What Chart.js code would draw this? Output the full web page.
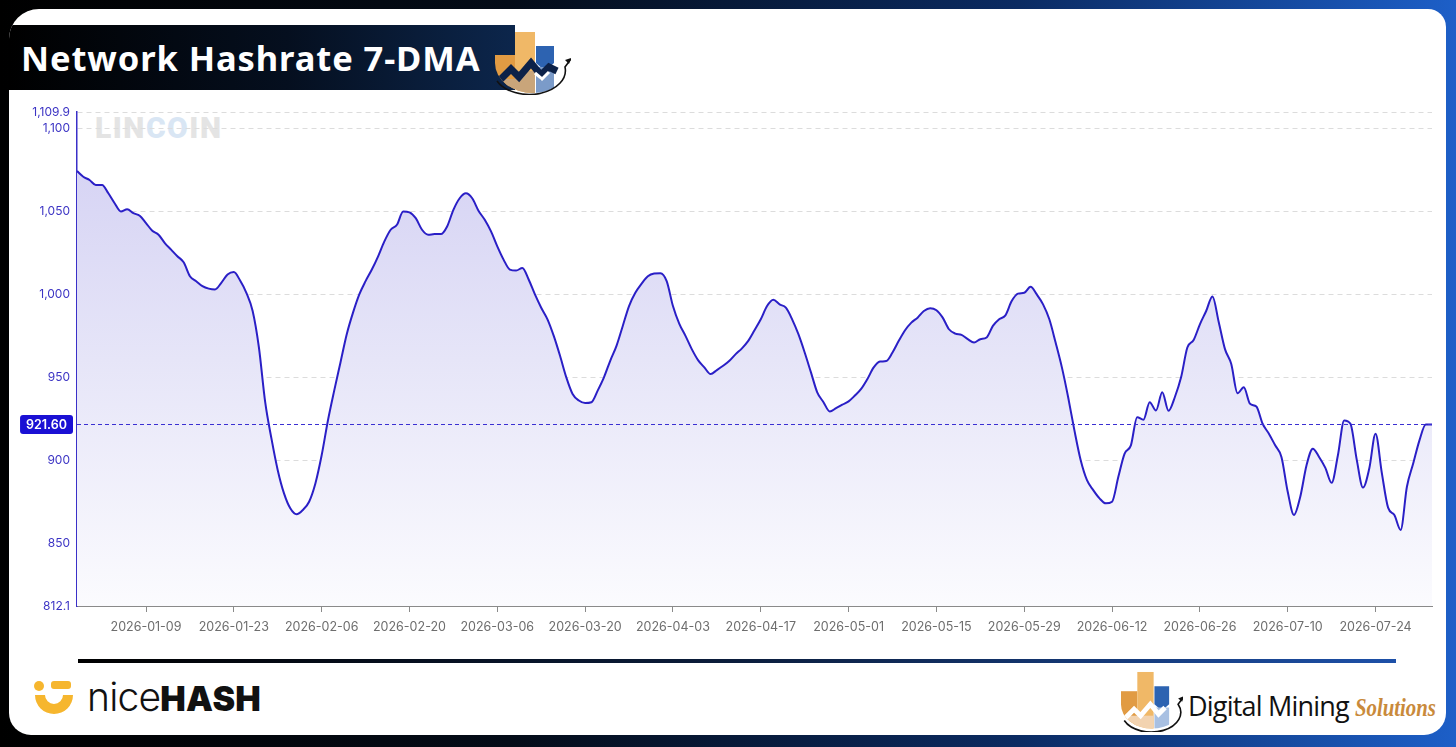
<!DOCTYPE html>
<html>
<head>
<meta charset="utf-8">
<script src="https://cdn.jsdelivr.net/npm/chart.js@4/dist/chart.umd.min.js"></script>
<style>
  html, body { margin: 0; padding: 0; }
  body {
    width: 1456px; height: 747px; overflow: hidden; position: relative;
    background: linear-gradient(90deg, #000 0%, #040c18 35%, #0b2b62 70%, #1d5fc8 100%);
    font-family: "Noto Sans", sans-serif;
  }
  #card {
    position: absolute; left: 9px; top: 9px; width: 1437px; height: 726px;
    background: #fff; border-radius: 30px 18px 22px 22px; overflow: hidden;
  }
  #banner {
    position: absolute; left: 0; top: 16px; width: 506px; height: 65px;
    background: linear-gradient(90deg, #000 0%, #050f1f 55%, #0c264c 100%);
  }
  #title {
    position: absolute; left: 12px; top: 9px; color: #fff;
    font: 700 34.5px "Noto Sans", sans-serif; letter-spacing: 0.9px; white-space: nowrap;
  }
  #logoTop { position: absolute; left: 486px; top: 14px; }
  #chartBox { position: absolute; left: 0; top: 98px; width: 1446px; height: 548px; }
  #wm {
    position: absolute; left: 86px; top: 101px; font: 900 30px Roboto, sans-serif;
    color: #e4e4e4; letter-spacing: 1.5px;
  }
  #wm span { color: #d9e6f4; }
  #sep {
    position: absolute; left: 69px; top: 650px; width: 1318px; height: 4px;
    background: linear-gradient(90deg, #000 0%, #0b1d3c 50%, #1d50a8 100%);
  }
  #nh { position: absolute; left: 24px; top: 671px; }
  #nhText { position: absolute; left: 78px; top: 664px; white-space: nowrap; color: #111; }
  #nhText .a { font: 300 39px Inter, sans-serif; letter-spacing: -0.8px; }
  #nhText .b { font: 900 34px Inter, sans-serif; letter-spacing: 0.3px; }
  #dms { position: absolute; left: 1112px; top: 661px; }
  #dmsText { position: absolute; left: 1179px; top: 678px; white-space: nowrap; }
  #dmsText .a { font: 500 27px "Open Sans", sans-serif; color: #111; letter-spacing: -0.8px; }
  #dmsText .b {
    display: inline-block; font: italic 700 26px "Liberation Serif", serif; color: #c98a3b;
    margin-left: 6px; transform: scaleX(0.8); transform-origin: left center;
  }
</style>
</head>
<body>
<div id="card">
  <div id="banner"><div id="title">Network Hashrate 7-DMA</div></div>
  <svg id="logoTop" width="76" height="72" viewBox="0 0 76 72">
    <defs><clipPath id="c1"><path d="M0 0 H76 V40 A38 30 0 0 1 0 40 Z"/></clipPath></defs>
    <g clip-path="url(#c1)">
      <rect x="0" y="32" width="20" height="45" fill="#e19b43"/>
      <rect x="20" y="9" width="20" height="68" fill="#f0b867"/>
      <rect x="20" y="48" width="20" height="30" fill="#c9a57a"/>
      <rect x="0" y="56" width="20" height="22" fill="#c9a57a"/>
      <path d="M41 23 H59 V40 L50 48 L41 40 Z" fill="#2d63b1"/>
      <rect x="41" y="44" width="18" height="34" fill="#7b9bc9"/>
      <path d="M0 62 L16 46 L24 54 L36 40 L46 52 L54 44 L62 48" stroke="#0c2148" stroke-width="7" fill="none"/>
      <path d="M40 50 L47 56 L54 49" stroke="#fff" stroke-width="3" fill="none"/>
    </g>
    <path d="M2 58 A36 24 0 0 0 70 44 L76 36" stroke="#111" stroke-width="1.6" fill="none"/>
    <path d="M76 35 L70 37 L74 41 Z" fill="#111"/>
  </svg>
  <div id="wm">LIN<span>CO</span>IN</div>
  <div id="sep"></div>
  <svg id="nh" width="42" height="40" viewBox="0 0 42 40">
    <circle cx="6" cy="6" r="5" fill="#f6b62e"/>
    <rect x="18" y="1" width="20" height="8" rx="3" fill="#f6b62e"/>
    <path d="M2 15 H12 A9 9 0 0 0 30 15 H40 A19 19 0 0 1 2 15 Z" fill="#f6b62e"/>
  </svg>
  <div id="nhText"><span class="a">nice</span><span class="b">HASH</span></div>
  <svg id="dms" width="62" height="62" viewBox="0 0 76 72">
    <defs><clipPath id="c2"><path d="M0 0 H76 V40 A38 30 0 0 1 0 40 Z"/></clipPath></defs>
    <g clip-path="url(#c2)">
      <rect x="0" y="24" width="20" height="50" fill="#e19b43"/>
      <rect x="20" y="0" width="20" height="74" fill="#f0b867"/>
      <rect x="0" y="54" width="40" height="24" fill="#f2d3b0"/>
      <path d="M41 18 H59 V40 L50 48 L41 40 Z" fill="#2d63b1"/>
      <rect x="41" y="44" width="18" height="34" fill="#a8c0e2"/>
      <path d="M0 62 L16 46 L24 54 L36 40 L46 52 L54 44" stroke="#fff" stroke-width="6" fill="none"/>
    </g>
    <path d="M4 60 A36 24 0 0 0 70 40 L76 32" stroke="#111" stroke-width="2" fill="none"/>
    <path d="M77 30 L70 33 L75 37 Z" fill="#111"/>
  </svg>
  <div id="dmsText"><span class="a">Digital Mining</span><span class="b">Solutions</span></div>
</div>
<div id="chartBox"><canvas id="myChart"></canvas></div>

<script>
// daily 7-DMA hashrate (EH/s), starting 2025-12-29
var startDate = "2025-12-29";
var hashrate = [
  1074.4, 1071, 1069, 1066, 1066, 1061, 1055, 1050, 1051.4, 1049,
  1047.4, 1043, 1038.4, 1036, 1031, 1027, 1023, 1019.4, 1011, 1008,
  1005, 1003.5, 1003, 1007, 1012, 1013.5, 1008.4, 1001, 990, 968,
  935, 913, 894, 880, 871, 867.4, 870, 875, 886, 903,
  924, 942, 959, 976, 989, 1000, 1008, 1015, 1023, 1032,
  1039, 1042, 1050, 1049.5, 1046, 1039, 1036, 1036.4, 1036.4, 1041,
  1051, 1058, 1061, 1058, 1050.5, 1045, 1038, 1029, 1021, 1015,
  1014.4, 1016, 1009, 1000, 992, 985, 975, 963, 950, 940,
  936, 934.5, 935, 942, 950, 960, 969, 981, 993, 1001,
  1006.5, 1011, 1012.6, 1012.8, 1008, 993, 982.4, 975, 967, 960.4,
  956, 952, 954.4, 957, 960, 964, 967.5, 972, 978.4, 985,
  993, 996.8, 994, 992, 985, 976, 965, 953, 941, 935,
  929.4, 931.4, 933.5, 935.5, 939, 943, 949, 956, 959.5, 959.8,
  965, 972, 978.4, 983, 986, 990, 991.7, 990.5, 986, 979,
  976.4, 975.6, 973, 971, 973, 974, 981, 985, 987.4, 996,
  1000.5, 1001, 1004.6, 1000, 994, 985, 971, 956, 938, 918,
  900, 888, 882, 877, 874, 875, 890, 904, 909, 926,
  924.4, 935, 930, 941, 929.8, 938, 950, 968, 972.5, 982,
  990, 998.8, 983.4, 967, 958, 940.4, 944, 934, 932.4, 922,
  916, 909, 902, 881, 867, 878, 897, 907, 902, 895.4,
  886.4, 903, 924, 922, 900.4, 883.5, 895, 916, 892.4, 871.4,
  867, 858, 884, 898, 912, 921.6, 921.6
];
var tickDates = ["2026-01-09", "2026-01-23", "2026-02-06", "2026-02-20", "2026-03-06",
  "2026-03-20", "2026-04-03", "2026-04-17", "2026-05-01", "2026-05-15",
  "2026-05-29", "2026-06-12", "2026-06-26", "2026-07-10", "2026-07-24"];
var yTicks = [812.1, 850, 900, 950, 1000, 1050, 1100, 1109.9];
var currentValue = 921.6;

function dayIndex(d) {
  return Math.round((Date.parse(d) - Date.parse(startDate)) / 864e5);
}
function addDays(n) {
  var t = new Date(Date.parse(startDate) + n * 864e5);
  return t.toISOString().slice(0, 10);
}
var dates = hashrate.map(function (v, i) { return addDays(i); });
var points = hashrate.map(function (v, i) { return { x: dayIndex(dates[i]), y: v }; });

// dashed current-value line and its badge on the y axis
var currentLine = {
  id: "currentLine",
  afterDatasetsDraw: function (chart) {
    var c = chart.ctx, ca = chart.chartArea;
    var y = Math.round(chart.scales.y.getPixelForValue(currentValue)) + 0.5;
    c.save();
    c.strokeStyle = "#3a2fd2";
    c.lineWidth = 1;
    c.setLineDash([4, 3]);
    c.beginPath();
    c.moveTo(ca.left, y);
    c.lineTo(ca.right, y);
    c.stroke();
    c.setLineDash([]);
    var txt = currentValue.toFixed(2);
    c.font = "600 12.5px Inter";
    var w = c.measureText(txt).width + 12;
    var bx = ca.left - 4 - w, bh = 19;
    c.fillStyle = "#1a10d4";
    c.beginPath();
    c.roundRect(bx, y - bh / 2, w, bh, 3);
    c.fill();
    c.fillStyle = "#fff";
    c.textAlign = "center";
    c.textBaseline = "middle";
    c.fillText(txt, bx + w / 2, y + 0.5);
    c.restore();
  }
};

var ctx = document.getElementById("myChart");
var chart = new Chart(ctx, {
  type: "line",
  data: {
    datasets: [{
      data: points,
      borderColor: "#2a1fc6",
      borderWidth: 2,
      pointRadius: 0,
      cubicInterpolationMode: "monotone",
      fill: "start",
      backgroundColor: function (context) {
        var ca = context.chart.chartArea;
        if (!ca) return "rgba(210,208,244,0.6)";
        var g = context.chart.ctx.createLinearGradient(0, ca.top, 0, ca.bottom);
        g.addColorStop(0, "#d2cff3");
        g.addColorStop(0.5, "#e6e5f8");
        g.addColorStop(1, "#fbfbfe");
        return g;
      }
    }]
  },
  options: {
    responsive: true,
    maintainAspectRatio: false,
    animation: false,
    layout: { padding: { top: 12, right: 14, left: 0, bottom: 0 } },
    plugins: { legend: { display: false }, tooltip: { enabled: false } },
    scales: {
      x: {
        type: "linear",
        min: 0,
        max: hashrate.length - 1,
        afterBuildTicks: function (scale) {
          scale.ticks = tickDates.map(function (d) { return { value: dayIndex(d) }; });
        },
        afterFit: function (scale) { scale.height = 40; },
        ticks: {
          autoSkip: false,
          maxRotation: 0,
          padding: 8,
          color: "#6e6e6e",
          font: { family: "Inter", size: 12.5 },
          callback: function (v) { return addDays(v); }
        },
        grid: { drawOnChartArea: false, drawTicks: true, tickLength: 6, color: "#8a8a8a" },
        border: { color: "#8a8a8a", width: 1 }
      },
      y: {
        min: yTicks[0],
        max: yTicks[yTicks.length - 1],
        afterBuildTicks: function (scale) {
          scale.ticks = yTicks.map(function (v) { return { value: v }; });
        },
        afterFit: function (scale) { scale.width = 77; },
        ticks: {
          autoSkip: false,
          padding: 7,
          color: "#3c34c4",
          font: { family: "Inter", size: 12 },
          callback: function (v) { return v.toLocaleString("en-US"); }
        },
        grid: {
          drawTicks: false,
          color: "#dcdcdc",
          lineWidth: 1
        },
        border: { color: "#3a30c8", width: 1.5, dash: [5, 4] }
      }
    }
  },
  plugins: [currentLine]
});
</script>
</body>
</html>
